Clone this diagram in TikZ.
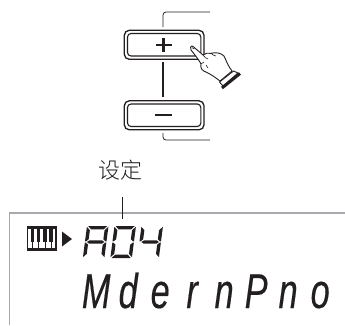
\documentclass[tikz,border=0pt]{standalone}
\usepackage{fontspec}
\newfontfamily\cjkfont{Noto Sans CJK SC Light}
\newfontfamily\lcdfont[FakeStretch=0.70,FakeBold=0.3]{Liberation Sans Italic}
\definecolor{ink}{HTML}{231F20}
\definecolor{frame}{HTML}{A7A9AC}
\newcommand{\sT}{(1.2,0)--(20.3,0)--(17,3.4)--(4.5,3.4)--cycle}
\newcommand{\sB}{(1.2,32)--(20.3,32)--(17,28.6)--(4.5,28.6)--cycle}
\newcommand{\sM}{(2,16)--(4.5,14.3)--(17,14.3)--(19.5,16)--(17,17.7)--(4.5,17.7)--cycle}
\newcommand{\sUL}{(0,0.8)--(3.4,4.2)--(3.4,13.3)--(1,15.4)--(0,15.4)--cycle}
\newcommand{\sLL}{(0,16.6)--(1,16.6)--(3.4,18.7)--(3.4,27.8)--(0,31.2)--cycle}
\newcommand{\sUR}{(21.5,0.8)--(18.1,4.2)--(18.1,13.3)--(20.5,15.4)--(21.5,15.4)--cycle}
\newcommand{\sLR}{(21.5,16.6)--(20.5,16.6)--(18.1,18.7)--(18.1,27.8)--(21.5,31.2)--cycle}
\tikzset{
 button/.style={draw=ink,line width=1.3pt,rounded corners=5pt,fill=white},
 buttoninner/.style={draw=ink,line width=1.1pt,rounded corners=3.5pt},
 leader/.style={draw=ink,line width=0.8pt},
 sign/.style={draw=ink,line width=2.8pt},
 seg/.style={fill=ink,draw=none},
 lcd/.style={inner sep=0pt,anchor=base west,text=ink},
}
\begin{document}
\begin{tikzpicture}[x=1pt,y=-1pt]
\useasboundingbox (0,0) rectangle (345,325);
% leaders
\coordinate (ltopA) at (163,27);
\coordinate (ltopB) at (210,12);
\coordinate (lbotA) at (163,133);
\coordinate (lbotB) at (210,140);
\draw[leader,rounded corners=3pt] (ltopA) |- (ltopB);
\draw[leader,rounded corners=3pt] (lbotA) |- (lbotB);
\coordinate (midA) at (163,62);
\coordinate (midB) at (163,97);
\draw[ink,line width=1.6pt] (midA) -- (midB);
% buttons
\draw[button] (124.3,30.3) rectangle (204,59.3);
\draw[buttoninner] (127.5,33.5) rectangle (200.8,56);
\draw[button] (124.3,100.8) rectangle (204,129.8);
\draw[buttoninner] (127.5,104) rectangle (200.8,126.5);
\draw[sign] (155.5,45) -- (172,45) (163.7,38) -- (163.7,51.5);
\draw[sign] (155,115) -- (172,115);
% hand
\draw[ink,line width=0.9pt,fill=white,line join=round]
 (190.6,47) .. controls (191,45.6) and (192.5,45.8) .. (193.5,46.8)
 -- (203,55)
 .. controls (205,53) and (208,53) .. (211,53.3)
 .. controls (216,52) and (221,53) .. (224,56)
 .. controls (226,60) and (228,66) .. (232,71)
 -- (220,81)
 .. controls (216,78) and (212,75) .. (207,72.5)
 .. controls (202,71) and (200,68) .. (201,64)
 .. controls (199,60) and (195,55) .. (191,50)
 .. controls (190.5,49) and (190.4,48) .. (190.6,47) -- cycle;
\draw[ink,line width=0.6pt] (192,47.6)--(194.5,49) (203,55) .. controls (205,57) and (206,59) .. (208,59) (206,65)--(208,68) (201,64) -- (204,62) (211,53.3) .. controls (213,54.5) and (214,56) .. (216,56);
\draw[ink,line width=0.9pt,fill=white] (219.5,82) -- (233.5,71) -- (238,73) -- (223,86) -- cycle;
\draw[ink,line width=3pt] (222,88) -- (240,73.5);
% caption
\node[inner sep=0pt,text=ink,font=\cjkfont\fontsize{22}{22}\selectfont] (cap) at (120,170) {设定};
% display frame
\draw[frame,line width=1.8pt] (345,212.8) -- (9.5,212.8) -- (9.5,325);
\coordinate (tickA) at (122.8,197);
\coordinate (tickB) at (122.8,219);
\draw[ink,line width=0.8pt] (tickA) -- (tickB);
% keyboard
\fill[ink] (26.5,226) rectangle (56.5,251);
\fill[white] (28.3,229) rectangle (54.7,248);
\foreach \x in {32.5,38.8,45,51} \fill[ink] (\x-1.6,228) rectangle (\x+1.6,242);
\foreach \x in {32.5,38.8,45,51} \draw[ink,line width=0.7pt] (\x,241) -- (\x,248);
% triangle
\fill[ink] (62,231.5) -- (72,239) -- (62,246.5) -- cycle;
% digits
\begin{scope}[shift={(87,226)},xslant=0.13]
 \fill[seg] \sT \sUL \sUR \sM \sLL \sLR;
\end{scope}
\begin{scope}[shift={(114.5,226)},xslant=0.13]
 \fill[seg] \sT \sUL \sUR \sLL \sLR \sB;
\end{scope}
\begin{scope}[shift={(141.5,226)},xslant=0.13]
 \fill[seg] \sUL \sUR \sM \sLR;
\end{scope}
% text
\node[lcd,font=\lcdfont\fontsize{49}{49}\selectfont] (name) at (80,308)
 {\makebox[32pt][c]{M}\makebox[32pt][c]{d}\makebox[32pt][c]{e}\makebox[32pt][c]{r}\makebox[32pt][c]{n}\makebox[32pt][c]{P}\makebox[32pt][c]{n}\makebox[32pt][c]{o}};
\end{tikzpicture}
\end{document}
